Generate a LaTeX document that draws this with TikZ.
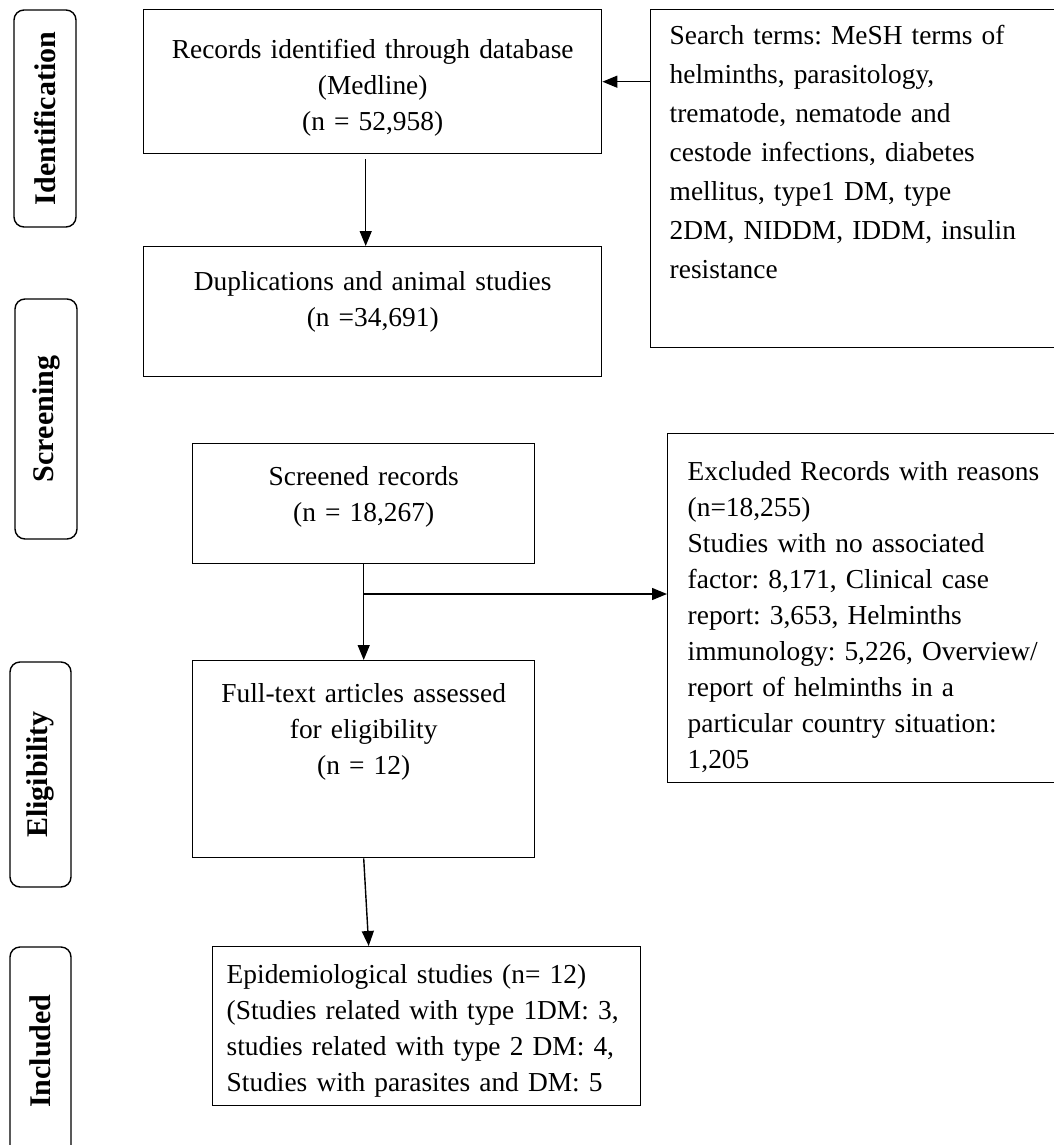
\documentclass[tikz,border=0pt]{standalone}
\usepackage{fontspec}
\setmainfont{Liberation Serif}
\usetikzlibrary{arrows.meta}
\frenchspacing
\begin{document}
\begin{tikzpicture}[x=1pt,y=-1pt,line width=1.4pt,
  box/.style={draw,anchor=north west,inner xsep=0pt,inner ysep=0pt,align=center,font=\fontsize{27.4}{36}\selectfont},
  phase/.style={draw,rounded corners=10pt,rotate=90,inner sep=0pt,font=\fontsize{30}{36}\selectfont\bfseries},
  arr/.style={-{Triangle[length=15pt,width=12pt]}}]
\useasboundingbox (0,0) rectangle (1054,1145);
% phases
\node[phase,minimum width=217pt,minimum height=62pt] (ident) at (45,118.5) {Identification};
\node[phase,minimum width=240pt,minimum height=62pt] (screen) at (46,419) {Screening};
\node[phase,minimum width=225pt,minimum height=61pt] (elig) at (40.5,774.5) {Eligibility};
\node[phase,minimum width=208pt,minimum height=61pt] (incl) at (40.5,1051) {Included};
% boxes
\node[box,text width=458pt,text height=49pt,text depth=95pt] (rec) at (143,9) {Records identified through database\\(Medline)\\(n = 52,958)};
\node[box,text width=458pt,text height=44pt,text depth=86pt] (dup) at (143,246) {Duplications and animal studies\\(n =34,691)};
\node[box,text width=342pt,text height=42pt,text depth=78pt] (scr) at (192,443) {Screened records\\(n = 18,267)};
\node[box,text width=342pt,text height=42pt,text depth=155pt] (full) at (192,660) {Full-text articles assessed\\for eligibility\\(n = 12)};
\node[box,align=left,inner xsep=14pt,text width=400pt,text height=37pt,text depth=122pt] (epi) at (212,946) {Epidemiological studies (n= 12)\\(Studies related with type 1DM: 3,\\studies related with type 2 DM: 4,\\Studies with parasites and DM: 5};
\node[box,align=left,inner xsep=19pt,text width=392pt,text height=35pt,text depth=303pt,font=\fontsize{27.4}{39}\selectfont] (srch) at (650,9) {Search terms: MeSH terms of\\helminths, parasitology,\\trematode, nematode and\\cestode infections, diabetes\\mellitus, type1 DM, type\\2DM, NIDDM, IDDM, insulin\\resistance};
\node[box,align=left,inner xsep=20pt,text width=373pt,text height=47pt,text depth=302pt] (excl) at (667,433) {Excluded Records with reasons\\(n=18,255)\\Studies with no associated\\factor: 8,171, Clinical case\\report: 3,653, Helminths\\immunology: 5,226, Overview/\\report of helminths in a\\particular country situation:\\1,205};
% arrows
\draw[arr] (srch.west |- rec.east) -- (rec.east);
\draw[arr,shorten <=5pt] ([xshift=-7pt]rec.south) -- ([xshift=-7pt]dup.north);
\draw[arr] (scr.south) -- (full.north);
\coordinate (split) at (363,594);
\draw[arr] (split) -- (split -| excl.west);
\draw[arr] (full.south) -- ([xshift=5pt]full.south |- epi.north);
\end{tikzpicture}
\end{document}
